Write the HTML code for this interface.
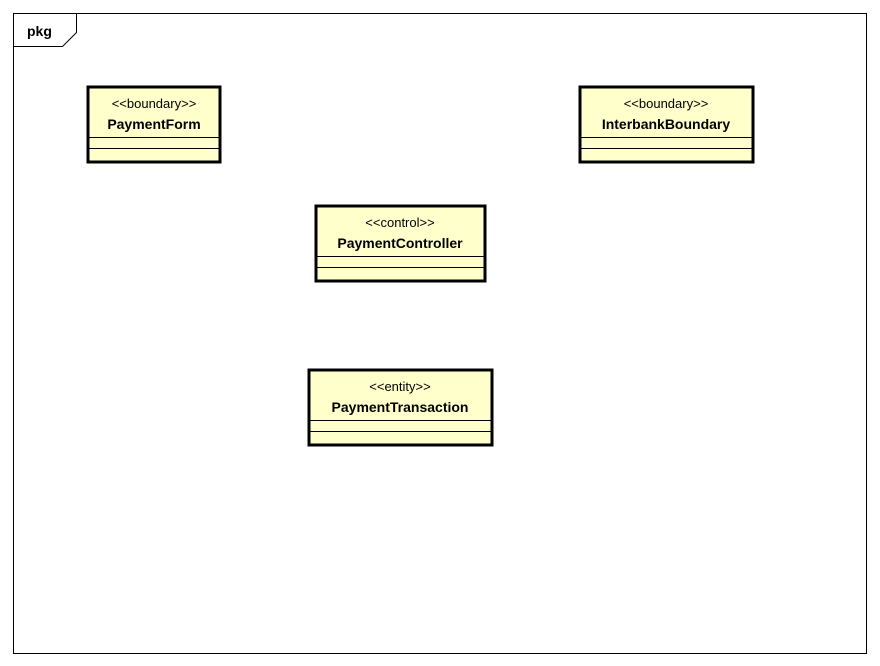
<!DOCTYPE html>
<html><head><style>body{margin:0;background:#fff}svg{display:block}</style></head><body>
<svg width="880" height="666" xmlns="http://www.w3.org/2000/svg" font-family="Liberation Sans, sans-serif">
<rect x="13.5" y="13.5" width="853" height="640" fill="#fff" stroke="#000" stroke-width="1"/>
<path d="M13.5 46.5 H62.5 L76.5 32.5 V13.5" fill="none" stroke="#000"/>
<text x="27" y="36" font-size="14" font-weight="bold">pkg</text>
<g stroke="#000" fill="#ffffcc">
<rect x="88" y="87" width="132" height="75" stroke-width="3"/>
<rect x="580" y="87" width="173" height="75" stroke-width="3"/>
<rect x="316" y="206" width="169" height="75" stroke-width="3"/>
<rect x="309" y="370" width="183" height="75" stroke-width="3"/>
</g>
<g stroke="#000" stroke-width="1">
<path d="M89 137.5H219M89 148.5H219"/>
<path d="M581 137.5H752M581 148.5H752"/>
<path d="M317 256.5H484M317 267.5H484"/>
<path d="M310 420.5H491M310 431.5H491"/>
</g>
<g font-size="13" text-anchor="middle">
<text x="154" y="108">&lt;&lt;boundary&gt;&gt;</text>
<text x="666" y="108">&lt;&lt;boundary&gt;&gt;</text>
<text x="400" y="227">&lt;&lt;control&gt;&gt;</text>
<text x="400" y="391">&lt;&lt;entity&gt;&gt;</text>
</g>
<g font-size="14" font-weight="bold" text-anchor="middle">
<text x="154" y="129">PaymentForm</text>
<text x="666" y="129">InterbankBoundary</text>
<text x="400" y="248">PaymentController</text>
<text x="400" y="412">PaymentTransaction</text>
</g>
</svg>
</body></html>
